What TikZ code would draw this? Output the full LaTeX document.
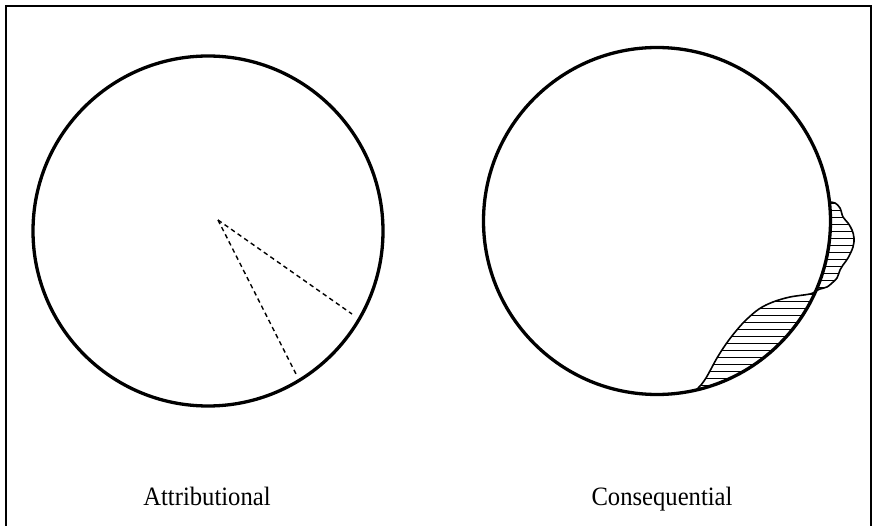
\documentclass[tikz,border=0pt]{standalone}
\usepackage{fontspec}
\setmainfont{Liberation Serif}
\usetikzlibrary{calc}
\begin{document}
\begin{tikzpicture}[x=1pt,y=-1pt,
  rim/.style={line width=3.3pt},
  ray/.style={line width=1.4pt, dash pattern=on 4.5pt off 3.5pt},
  hatch/.style={line width=0.9pt},
  edge/.style={line width=1.6pt, line join=round},
  lbl/.style={font=\fontsize{26.5}{30}\selectfont, anchor=base, inner sep=0pt}]
\useasboundingbox (0,0) rectangle (873,526);
\clip (0,0) rectangle (873,526);
\draw[line width=2.5pt] (6,540) -- (6,6) -- (871,6) -- (871,540);
% left circle
\coordinate (L) at (208,231);
\draw[rim] (L) circle[radius=175pt];
\coordinate (apex) at (218,220);
\coordinate (e1) at (352,314);
\coordinate (e2) at (296,374);
\draw[ray] (apex) -- (e1);
\draw[ray] (apex) -- (e2);
% right circle
\coordinate (R) at (657,221);
\coordinate (P1) at ($(R)+(-6.3:173.5)$);
\coordinate (P2) at ($(R)+(23.8:173.5)$);
\coordinate (P3) at ($(R)+(77:173.5)$);
\begin{scope}
\clip plot[smooth, tension=0.6] coordinates {(P1) (835,203) (840,208) (843,217) (848,223) (852,230) (854,238) (853,247) (848,258) (843,265) (840,270) (837,278) (832,283) (827,287) (820,289) (P2)} -- cycle;
\foreach \y in {196,203,...,300} \draw[hatch] (780,\y) -- (870,\y);
\end{scope}
\fill[white] (R) circle[radius=173.5pt];
\begin{scope}
\clip (R) circle[radius=173.5pt];
\clip plot[smooth, tension=0.6] coordinates {(P2) (810,294) (790,297) (773,302) (759,309) (746,320) (736,331) (726,344) (717,358) (711,369) (706,378) (701,385) (P3)} -- (760,430) -- (870,330) -- cycle;
\foreach \y in {294,301,...,400} \draw[hatch] (680,\y) -- (840,\y);
\end{scope}
\draw[edge] plot[smooth, tension=0.6] coordinates {(P1) (835,203) (840,208) (843,217) (848,223) (852,230) (854,238) (853,247) (848,258) (843,265) (840,270) (837,278) (832,283) (827,287) (820,289) (P2)};
\draw[edge] plot[smooth, tension=0.6] coordinates {(P2) (810,294) (790,297) (773,302) (759,309) (746,320) (736,331) (726,344) (717,358) (711,369) (706,378) (701,385) (P3)};
\draw[rim] (R) circle[radius=173.5pt];
% labels
\node[lbl] (t1) at (207,505) {\scalebox{0.93}[1]{Attributional}};
\node[lbl] (t2) at (662,505) {\scalebox{0.93}[1]{Consequential}};
\end{tikzpicture}
\end{document}
